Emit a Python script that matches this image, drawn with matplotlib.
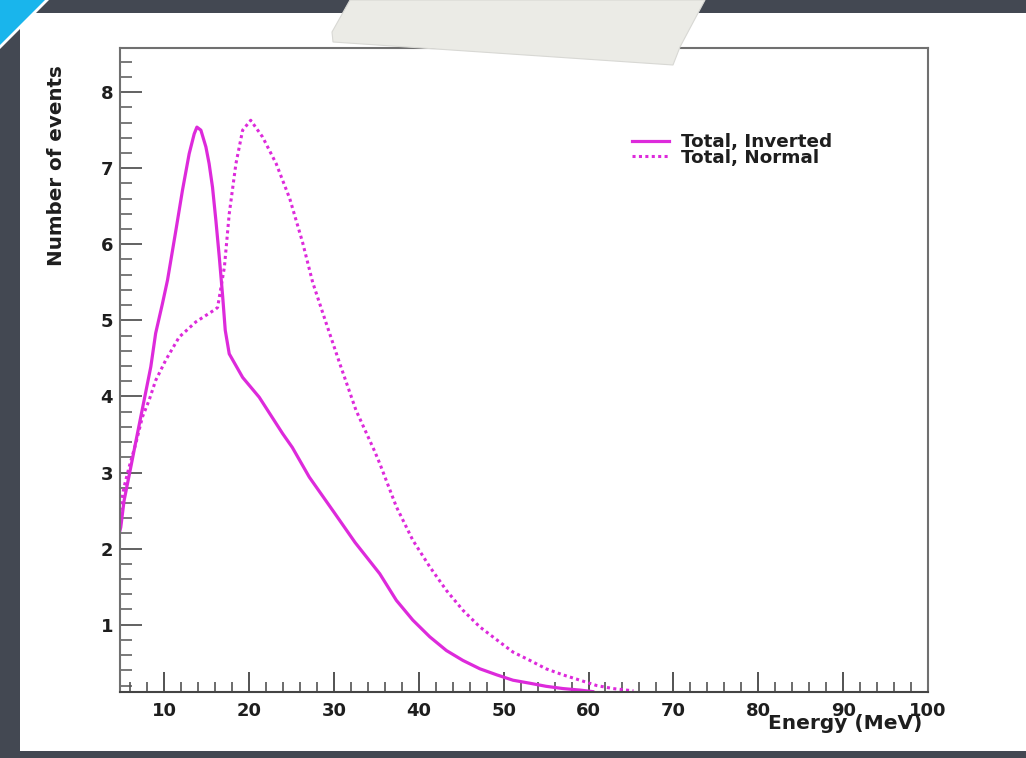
import matplotlib
matplotlib.use("Agg")
import matplotlib.pyplot as plt
from matplotlib.patches import Polygon, Rectangle
from matplotlib.ticker import MultipleLocator

plt.rcParams['font.family'] = ['DejaVu Sans']
plt.rcParams['font.weight'] = 'bold'
plt.rcParams['axes.labelweight'] = 'bold'

# Total spectrum, inverted hierarchy (solid)
energy_inv = [4.8, 4.89, 5.28, 6.07, 6.85, 7.64, 8.43, 9.0, 9.8, 10.4, 11.38, 12.16,
              12.95, 13.54, 13.86, 14.33, 14.92, 15.3, 15.7, 16.1, 16.5, 16.9, 17.2,
              17.67, 19.25, 21.2, 23.97, 25.1, 27.1, 30.0, 32.5, 35.4, 37.36, 39.3,
              41.3, 43.26, 45.2, 47.2, 49.2, 51.1, 53.1, 55.0, 57.0, 59.0, 60.5]
events_inv = [2.24, 2.28, 2.63, 3.07, 3.51, 3.95, 4.39, 4.83, 5.22, 5.53, 6.18, 6.71,
              7.19, 7.45, 7.54, 7.50, 7.28, 7.06, 6.75, 6.31, 5.83, 5.31, 4.87,
              4.56, 4.25, 3.99, 3.51, 3.33, 2.94, 2.48, 2.08, 1.67, 1.32, 1.06,
              0.84, 0.66, 0.53, 0.42, 0.34, 0.27, 0.23, 0.19, 0.16, 0.14, 0.12]

# Total spectrum, normal hierarchy (dotted)
energy_norm = [4.8, 5.28, 5.87, 6.66, 7.44, 8.23, 9.0, 10.2, 11.77, 13.74, 16.1, 16.3,
               17.1, 17.67, 18.46, 19.25, 20.2, 21.6, 23.2, 24.8, 26.3, 27.5, 29.1,
               30.7, 32.6, 34.8, 35.4, 37.36, 39.3, 41.3, 43.26, 45.2, 47.2, 49.2,
               51.1, 53.1, 55.0, 57.0, 59.0, 60.96, 62.9, 65.3]
events_norm = [2.5, 2.81, 3.07, 3.38, 3.73, 3.95, 4.21, 4.48, 4.78, 4.98, 5.15, 5.17,
               5.70, 6.40, 7.06, 7.50, 7.63, 7.41, 7.06, 6.60, 6.03, 5.50, 4.96,
               4.43, 3.82, 3.28, 3.12, 2.55, 2.11, 1.76, 1.45, 1.19, 0.97, 0.80,
               0.64, 0.53, 0.42, 0.34, 0.27, 0.20, 0.16, 0.13]

W, H = 1026, 758
fig = plt.figure(figsize=(W / 100, H / 100), dpi=100, facecolor='#434852')


def px(x, y):
    # image pixel (origin top-left) -> figure fraction
    return (x / W, 1 - y / H)


# slide panel and decorations
fig.patches.append(Rectangle(px(20, 751), (W - 20) / W, (751 - 13) / H,
                             transform=fig.transFigure, facecolor='white',
                             edgecolor='none', zorder=-10))
fig.patches.append(Polygon([px(0, 0), px(49, 0), px(0, 49)], closed=True,
                           transform=fig.transFigure, facecolor='white',
                           edgecolor='none', zorder=5))
fig.patches.append(Polygon([px(0, 0), px(45, 0), px(0, 45)], closed=True,
                           transform=fig.transFigure, facecolor='#19b5ec',
                           edgecolor='none', zorder=6))
fig.patches.append(Polygon([px(350, 0), px(332, 32), px(333, 42), px(673, 65),
                            px(680, 47), px(705, 0)], closed=True,
                           transform=fig.transFigure, facecolor='#ebebe6',
                           edgecolor='#d8d8d4', linewidth=0.8, zorder=5))

ax = fig.add_axes([120 / W, 1 - 692 / H, (928 - 120) / W, (692 - 48) / H])
ax.set_facecolor('white')

col = '#dd2adb'
ax.plot(energy_inv, events_inv, color=col, lw=2.3, label='Total, Inverted')
ax.plot(energy_norm, events_norm, color=col, lw=2.2, linestyle=(0, (1, 1.1)),
        label='Total, Normal')

ax.set_xlim(4.8, 100)
ax.set_ylim(0.115, 8.58)

ax.xaxis.set_major_locator(MultipleLocator(10))
ax.xaxis.set_minor_locator(MultipleLocator(2))
ax.yaxis.set_major_locator(MultipleLocator(1))
ax.yaxis.set_minor_locator(MultipleLocator(0.2))
ax.set_xticks(range(10, 101, 10))
ax.set_yticks(range(1, 9))

ax.tick_params(axis='x', which='major', direction='in', length=14.5, width=1.3,
               color='#444444', labelsize=13, pad=7, labelcolor='#1e1e1e')
ax.tick_params(axis='x', which='minor', direction='in', length=7.2, width=1.1,
               color='#444444')
ax.tick_params(axis='y', which='major', direction='in', length=15.5, width=1.3,
               color='#555555', labelsize=13, pad=5, labelcolor='#1e1e1e')
ax.tick_params(axis='y', which='minor', direction='in', length=8.5, width=1.1,
               color='#555555')

for side in ['left', 'bottom', 'top', 'right']:
    ax.spines[side].set_color('#707070')
    ax.spines[side].set_linewidth(1.5)
ax.spines['bottom'].set_color('#444444')

ax.set_xlabel('Energy (MeV)', loc='right', fontsize=14.5, color='#1e1e1e',
              fontweight='bold')
ax.xaxis.set_label_coords(0.9926, -0.034)
ax.set_ylabel('Number of events', loc='top', fontsize=14.3, color='#1e1e1e',
              fontweight='bold')
ax.yaxis.set_label_coords(-0.078, 0.974)
ax.yaxis.label.set_va('center')

ax.legend(loc='upper left', bbox_to_anchor=(0.634, 0.868), frameon=False,
          handlelength=2.0, handletextpad=0.66, borderpad=0, borderaxespad=0,
          labelspacing=-0.13, prop={'size': 13.2, 'weight': 'bold'},
          labelcolor='#1e1e1e')

fig.savefig('out.png', dpi=100, facecolor=fig.get_facecolor())
